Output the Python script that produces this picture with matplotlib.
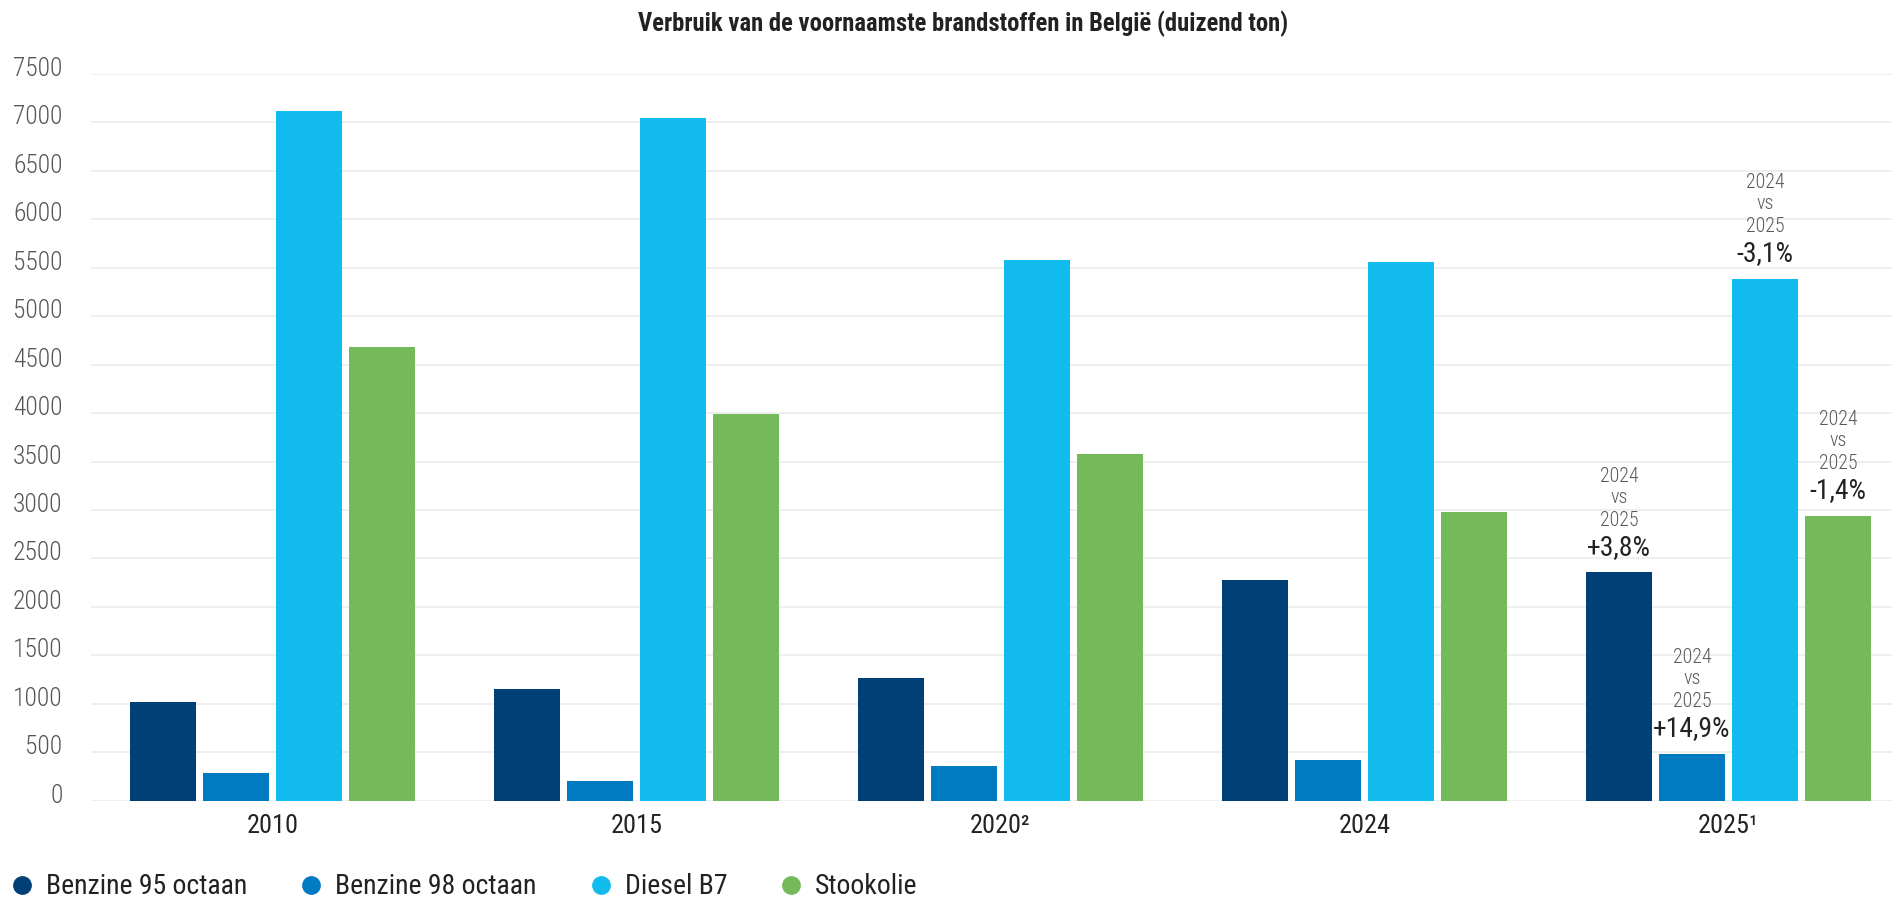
import matplotlib
matplotlib.use("Agg")
import matplotlib.pyplot as plt
from matplotlib import font_manager
from matplotlib.lines import Line2D
import matplotlib.transforms as mtrans
import numpy as np

# ---- data ----
categories = ['2010', '2015', '2020²', '2024', '2025¹']
series_names = ['Benzine 95 octaan', 'Benzine 98 octaan', 'Diesel B7', 'Stookolie']
benzine95 = [1018, 1153, 1265, 2274, 2358]
benzine98 = [286, 203, 356, 419, 482]
diesel_b7 = [7113, 7042, 5582, 5558, 5386]
stookolie = [4680, 3990, 3579, 2979, 2940]
changes = ['+3,8%', '+14,9%', '-3,1%', '-1,4%']   # 2024 vs 2025, per series
yticks = [0, 500, 1000, 1500, 2000, 2500, 3000, 3500, 4000, 4500, 5000, 5500, 6000, 6500, 7000, 7500]
title = 'Verbruik van de voornaamste brandstoffen in België (duizend ton)'

colors = ['#004077', '#007bc2', '#12bbed', '#74b95a']

# ---- fonts ----
weights = {}
for f in font_manager.fontManager.ttflist:
    w = f.weight if isinstance(f.weight, int) else font_manager.weight_dict.get(f.weight, 400)
    weights.setdefault(f.name, set()).add(w)

def pick(names, need=None):
    for n in names:
        if n in weights:
            if need is None or any(lo <= w <= hi for w in weights[n] for lo, hi in [need]):
                return n
    return 'DejaVu Sans'

cands = ['Source Sans 3', 'Source Sans Pro', 'Roboto Condensed', 'Lato', 'Roboto']
MAIN = pick(cands, (380, 520))
BOLD = pick(cands, (580, 720))
LIGHT = pick(cands, (250, 350))
if LIGHT == 'DejaVu Sans':
    LIGHT = MAIN

W, H = 1892, 899
fig = plt.figure(figsize=(W / 100, H / 100), dpi=100)
renderer = fig.canvas.get_renderer()

def fit(text, target_px, **kw):
    t = fig.text(0, 0, text, fontsize=20, **kw)
    w = t.get_window_extent(renderer).width
    t.remove()
    return 20 * target_px / w

# axes geometry in px
ax_left, ax_right = 90.5, W
y0_px, y7500_px = 800.7, 73.9
ax = fig.add_axes([ax_left / W, 1 - y0_px / H, (ax_right - ax_left) / W, (y0_px - y7500_px) / H])
band = 364.0
ax.set_xlim(-0.5, -0.5 + (ax_right - ax_left) / band)
ax.set_ylim(0, 7500)

x = np.arange(len(categories))
step = 73 / band
bw = 66 / band
all_series = [benzine95, benzine98, diesel_b7, stookolie]
bars = []
for i, (vals, col, name) in enumerate(zip(all_series, colors, series_names)):
    b = ax.bar(x + (i - 1.5) * step, vals, width=bw, color=col, label=name, zorder=3)
    bars.append(b)

# grid
ax.set_yticks(yticks)
ax.grid(axis='y', color='#eeeeee', linewidth=1.3, zorder=0)
ax.set_axisbelow(True)
for s in ax.spines.values():
    s.set_visible(False)
ax.tick_params(axis='both', length=0)

ytick_size = fit('7500', 49.5, family=LIGHT, weight=300)
xtick_size = fit('2010', 52, family=MAIN, weight='normal')
ax.set_yticklabels([str(v) for v in yticks], fontsize=ytick_size, family=LIGHT,
                   weight=300, color='#555555')
ax.tick_params(axis='y', pad=28 * 0.72)
for lab in ax.get_yticklabels():
    lab.set_va('baseline')
    lab.set_transform(lab.get_transform() + mtrans.ScaledTranslation(0, -2 / 100, fig.dpi_scale_trans))
ax.set_xticks(x)
ax.set_xticklabels(categories, fontsize=xtick_size, family=MAIN, weight='normal', color='#222222')
ax.tick_params(axis='x', pad=13 * 0.72)

# title
tsize = fit(title, 649, family=BOLD, weight='semibold')
fig.text(963 / W, 1 - 24 / H, title, ha='center', va='center', fontsize=tsize,
         family=BOLD, weight='semibold', color='#222222')

# annotations for 2025
yr_size = fit('2024', 39, family=LIGHT, weight=300)
pct_size = fit('+3,8%', 64, family=MAIN, weight='normal')
last = len(categories) - 1
for i, b in enumerate(bars):
    rect = b[last]
    cx = rect.get_x() + rect.get_width() / 2
    top = rect.get_height()
    lines = [('2024', 90.6, yr_size, '#5a5a5a', LIGHT, 300),
             ('vs', 69.6, yr_size, '#5a5a5a', LIGHT, 300),
             ('2025', 46.6, yr_size, '#5a5a5a', LIGHT, 300),
             (changes[i], 17.6, pct_size, '#222222', MAIN, 'normal')]
    for txt, off, fs, col, fam, wt in lines:
        ax.annotate(txt, (cx, top), xytext=(0, off * 0.72), textcoords='offset points',
                    ha='center', va='baseline', fontsize=fs, family=fam, weight=wt,
                    color=col, zorder=4)

# legend
lsize = fit(series_names[0], 201, family=MAIN, weight='normal')
em = lsize / 0.72
h_len = 0.8
tpad = 24 / em - h_len / 2
cspace = 64 / em - h_len / 2
handles = [Line2D([0], [0], marker='o', linestyle='none', markersize=12.5,
                  markerfacecolor=c, markeredgecolor=c) for c in colors]
fig.legend(handles, series_names, loc='center left',
           bbox_to_anchor=((22 - h_len / 2 * em) / W, 1 - 887 / H),
           ncol=4, frameon=False, borderpad=0, borderaxespad=0,
           handlelength=h_len, handletextpad=tpad, columnspacing=cspace,
           prop={'family': MAIN, 'size': lsize, 'weight': 'normal'}, labelcolor='#222222')

fig.savefig('out.png', dpi=100)
